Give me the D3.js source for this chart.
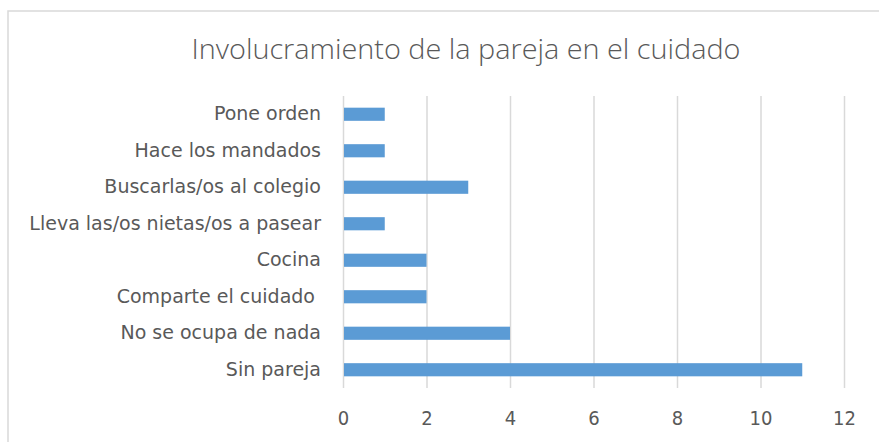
<!DOCTYPE html>
<html><head><meta charset="utf-8">
<script src="https://cdn.jsdelivr.net/npm/d3@7"></script>
<style>body{margin:0;background:#fff}svg{display:block}</style>
</head><body>
<svg id="c" width="879" height="442"></svg>
<script>
const title = "Involucramiento de la pareja en el cuidado";
const categories = ["Pone orden","Hace los mandados","Buscarlas/os al colegio","Lleva las/os nietas/os a pasear","Cocina","Comparte el cuidado ","No se ocupa de nada","Sin pareja"];
const values = [1,1,3,1,2,2,4,11];
const ticks = [0,2,4,6,8,10,12];

const svg = d3.select("#c");
const W = 879, H = 442;
svg.append("rect").attr("x",8).attr("y",11).attr("width",W).attr("height",H)
  .attr("fill","#fff").attr("stroke","#d9d9d9").attr("stroke-width",1.5);

const m = {left:343, right:35, top:96, bottom:54};
const x = d3.scaleLinear().domain([0,12]).range([m.left, W-m.right]);
const y = d3.scaleBand().domain(categories).range([m.top, H-m.bottom]).paddingInner(0.64).paddingOuter(0.32);

svg.append("text").attr("x",466).attr("y",59).attr("text-anchor","middle")
  .attr("font-family","'Open Sans', sans-serif").attr("font-size",27).attr("font-weight",300)
  .attr("fill","#595959").attr("textLength",549).attr("lengthAdjust","spacingAndGlyphs").text(title);

const grid = svg.append("g").attr("transform",`translate(0,${H-m.bottom})`)
  .call(d3.axisBottom(x).tickValues(ticks).tickSize(-(H-m.top-m.bottom)).tickPadding(23).tickFormat(d3.format("d")));
grid.select(".domain").remove();
grid.selectAll(".tick line").attr("stroke","#d9d9d9").attr("stroke-width",1.5);
grid.selectAll(".tick text").attr("fill","#595959").attr("font-family","'DejaVu Sans Condensed','DejaVu Sans',sans-serif").attr("font-size",20);

svg.append("g").selectAll("rect").data(categories).join("rect")
  .attr("x",x(0)+1).attr("y",d=>y(d)).attr("height",y.bandwidth())
  .attr("width",(d,i)=>x(values[i])-x(0)-1).attr("fill","#5B9BD5");

const ya = svg.append("g").attr("transform",`translate(${m.left},0)`)
  .call(d3.axisLeft(y).tickSize(0).tickPadding(22));
ya.select(".domain").remove();
ya.selectAll(".tick text").attr("fill","#595959").attr("font-family","'DejaVu Sans',sans-serif").attr("font-size",19).style("white-space","pre");
</script>
</body></html>
